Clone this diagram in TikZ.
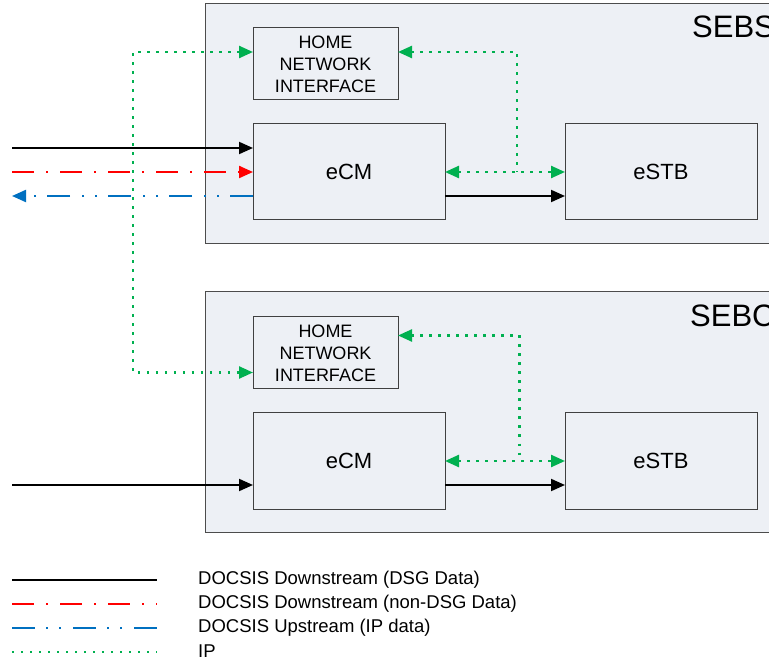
\documentclass[tikz,border=0pt]{standalone}
\usepackage{fontspec}
\setmainfont{Liberation Sans}
\usetikzlibrary{arrows.meta,positioning,calc}

\definecolor{sebfill}{HTML}{EDF0F5}
\definecolor{ipgreen}{HTML}{00B050}
\definecolor{upblue}{HTML}{0070C0}

\begin{document}
\begin{tikzpicture}[
    x = 1pt, y = -1pt, % pixel like units
    > = {Triangle[length=14pt,width=12pt]}, % arrow head style
    node distance = 24pt, % distance between boxes
    dsg/.style = {line width=2pt, black},
    nondsg/.style = {line width=2.2pt, red, dash pattern=on 22pt off 12pt on 2pt off 12pt},
    upstream/.style = {line width=2.2pt, upblue, dash pattern=on 23pt off 11pt on 2pt off 11pt on 2pt off 12pt},
    ip/.style = {line width=2.4pt, ipgreen, dash pattern=on 2.4pt off 6.6pt},
    legendtext/.style = {anchor=west, inner sep=0pt, font=\fontsize{18.5}{22}\selectfont}
    ]

    \tikzset{
    seb/.style = {draw=black!70, fill=sebfill, line width=1pt, anchor=north west,
        minimum width=620pt, minimum height=240pt, inner sep=0pt, outer sep=0pt},
    block/.style = {draw=black!75, line width=1pt, minimum width=192pt,
        minimum height=96pt, inner sep=0pt, outer sep=0pt,
        font=\fontsize{22}{26}\selectfont},
    hni/.style = {draw=black!75, line width=1pt, minimum width=145pt,
        minimum height=72pt, inner sep=0pt, outer sep=0pt, align=center,
        font=\fontsize{18}{22}\selectfont}
    }

    \useasboundingbox (0,0) rectangle (769,660);

    % server side
    \node[seb] (sebsA) at (205,4) {};
    \node[anchor=base west, inner sep=0pt, font=\fontsize{31}{36}\selectfont] (sebsLabel) at (692,38) {SEBS};
    \node[block, anchor=north west] (ecmA) at (253,124) {eCM};
    \node[block, right=120pt of ecmA] (stbA) {eSTB};
    \node[hni, above right=24pt and 0pt of ecmA.north west] (hniA) {HOME\\NETWORK\\INTERFACE};

    % client side
    \node[seb] (sebcA) at (205,292) {};
    \node[anchor=base west, inner sep=0pt, font=\fontsize{31}{36}\selectfont] (sebcLabel) at (690,327) {SEBC};
    \node[block, below=193pt of ecmA] (ecmB) {eCM};
    \node[block, right=120pt of ecmB] (stbB) {eSTB};
    \node[hni, above right=24pt and 0pt of ecmB.north west] (hniB) {HOME\\NETWORK\\INTERFACE};

    \coordinate (dsgInA) at (12,148);
    \coordinate (dataInA) at (12,172);
    \coordinate (upOutA) at (12,196);
    \coordinate (dsgInB) at (12,485);
    \coordinate (ipJoinA) at ($(ecmA.east)!0.6!(stbA.west)$);
    \coordinate (ipJoinB) at ($(ecmB.east)!0.62!(stbB.west)$);

    \draw[dsg, ->] (dsgInA) -- ([yshift=24pt]ecmA.west);
    \draw[nondsg, ->] (dataInA) -- (ecmA.west);
    \draw[upstream, ->] ([yshift=-24pt]ecmA.west) -- (upOutA);
    \draw[dsg, ->] ([yshift=-24pt]ecmA.east) -- ([yshift=-24pt]stbA.west);
    \draw[dsg, ->] (dsgInB) -- ([yshift=-24pt]ecmB.west);
    \draw[dsg, ->] ([yshift=-24pt]ecmB.east) -- ([yshift=-24pt]stbB.west);

    \draw[ip, <->] ([yshift=12pt]hniA.west) -- ++(-120pt,0) |- ([yshift=-19.5pt]hniB.west);
    \draw[ip, <-] ([yshift=12pt]hniA.east) -| (ipJoinA);
    \draw[ip, <->] (ecmA.east) -- (stbA.west);
    \draw[ip, <-] ([yshift=17.5pt]hniB.east) -| (ipJoinB);
    \draw[ip, <->] (ecmB.east) -- (stbB.west);

    % legend
    \coordinate (keyA) at (12,580);
    \coordinate (keyB) at (12,604);
    \coordinate (keyC) at (12,628);
    \coordinate (keyD) at (12,652);
    \node[legendtext] (txtA) at (198,580) {DOCSIS Downstream (DSG Data)};
    \node[legendtext] (txtB) at (198,604) {DOCSIS Downstream (non-DSG Data)};
    \node[legendtext] (txtC) at (198,628) {DOCSIS Upstream (IP data)};
    \node[legendtext] (txtD) at (198,651) {IP};
    \draw[dsg] (keyA) -- ++(145pt,0);
    \draw[nondsg] (keyB) -- ++(145pt,0);
    \draw[upstream] (keyC) -- ++(145pt,0);
    \draw[ip] (keyD) -- ++(145pt,0);
\end{tikzpicture}
\end{document}
